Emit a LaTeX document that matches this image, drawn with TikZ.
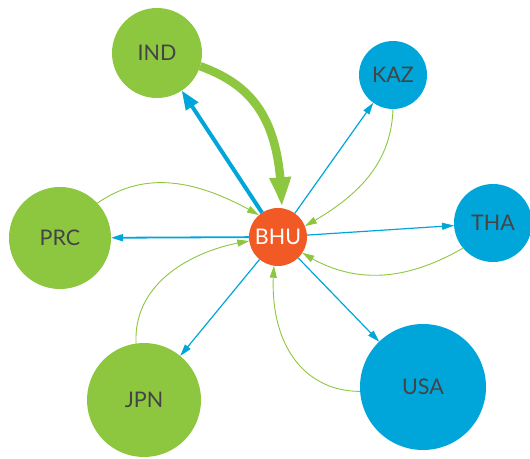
\documentclass[tikz,border=0pt]{standalone}
\usepackage{fontspec}
\setmainfont{Lato}
\usetikzlibrary{arrows.meta,bending}
\definecolor{cgreen}{HTML}{8DC63F}
\definecolor{cblue}{HTML}{00A6DA}
\definecolor{corange}{HTML}{F15A24}
\definecolor{ctext}{HTML}{444444}
\begin{document}
\begin{tikzpicture}[x=1pt,y=1pt,
  country/.style={circle, inner sep=0pt, outer sep=0pt, draw=none,
    font=\fontsize{21.5}{24}\selectfont, text=ctext},
  gnode/.style={country, fill=cgreen},
  bnode/.style={country, fill=cblue},
  onode/.style={country, fill=corange, text=white},
  outflow/.style={draw=cblue, line width=1.2pt, -{Triangle[length=12pt,width=7pt]}},
  inflow/.style={draw=cgreen, line width=0.9pt, -{Triangle[length=12pt,width=7pt]}},
  bigout/.style={draw=cblue, line width=4pt, -{Triangle[length=19pt,width=14pt]}},
  bigin/.style={draw=cgreen, line width=8.5pt, -{Triangle[length=32pt,width=19pt,bend]}}
]
\useasboundingbox (0,0) rectangle (530,458);
% nodes
\node[gnode, minimum size=90pt]  (ind) at (157,405) {IND};
\node[bnode, minimum size=68pt]  (kaz) at (393,383) {KAZ};
\node[gnode, minimum size=102pt] (prc) at (60,220)  {PRC};
\node[onode, minimum size=58pt]  (bhu) at (278,221) {BHU};
\node[bnode, minimum size=78pt]  (tha) at (493,235) {THA};
\node[gnode, minimum size=114pt] (jpn) at (144,58)  {JPN};
\node[bnode, minimum size=126pt] (usa) at (423,71)  {USA};
% outflows (blue)
\draw[bigout]  (bhu) -- (ind);
\draw[outflow] (bhu) -- (kaz);
\draw[outflow] (bhu) -- (tha);
\draw[outflow, line width=1.8pt] (bhu) -- (prc);
\draw[outflow] (bhu) -- (jpn);
\draw[outflow] (bhu) -- (usa);
% inflows (green)
\draw[bigin] (ind.-17) to[out=-20, in=90, out distance=55pt, in distance=90pt] (bhu.83);
\draw[inflow] (prc.43) to[out=35, in=150] (bhu.131);
\draw[inflow] (jpn.98) to[out=93, in=188, out distance=62pt, in distance=55pt] (bhu.188);
\draw[inflow] (usa.184) to[out=180, in=265, out distance=55pt, in distance=80pt] (bhu.262);
\draw[inflow] (tha.220) to[out=210, in=-33] (bhu.-33);
\draw[inflow] (kaz.270) to[out=268, in=29] (bhu.22);
\end{tikzpicture}
\end{document}
